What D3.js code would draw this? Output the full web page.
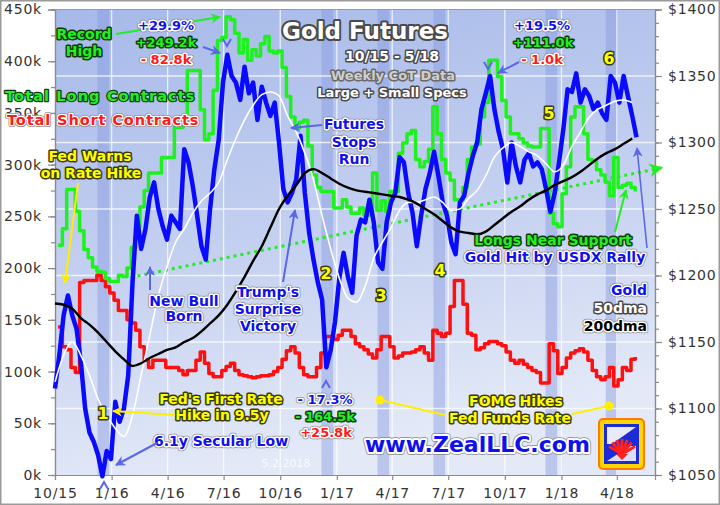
<!DOCTYPE html>
<html><head><meta charset="utf-8">
<script src="https://cdn.jsdelivr.net/npm/d3@7"></script>
<style>
html,body{margin:0;padding:0;background:#fff;}
svg{display:block;font-family:"DejaVu Sans",Verdana,sans-serif;}
</style></head><body>
<svg id="c" width="720" height="505"></svg>
<script>
// ---------------- DATA ----------------
const cotStart = "2015-10-06";   // weekly CoT report dates
const longK = [222,238,276,276,255,236,218,210,201,197,
196,190,187,187,193,192,200,220,240,259,
275,292,292,292,307,307,307,336,336,340,
391,391,391,353,324,330,372,420,423,443,
440,427,408,421,401,411,405,417,424,410,
408,410,394,366,346,335,341,343,318,290,
278,274,274,274,258,258,266,259,253,253,
258,251,251,292,256,265,255,274,274,311,
321,330,333,305,298,303,315,356,330,305,
292,285,266,266,278,305,317,320,346,360,
401,401,385,362,346,330,330,325,321,318,
317,317,335,335,253,243,240,272,298,346,
356,356,330,305,303,295,290,283,270,307,
278,280,282,278,274];
const shortK = [143,124,121,104,99,186,188,188,188,193,
188,182,176,169,159,159,150,147,140,124,
111,104,111,111,111,104,104,104,101,97,
101,101,111,119,108,98,95,95,101,105,
108,101,97,96,95,94,95,96,96,97,
100,104,112,120,124,118,104,97,95,95,
104,118,134,134,131,135,140,140,134,127,
124,121,117,113,121,134,134,124,113,115,
118,118,119,121,124,118,111,140,137,134,
137,163,188,188,165,137,135,121,123,127,
129,129,127,125,119,111,108,111,107,104,
101,99,89,89,127,120,98,104,113,118,
120,122,119,111,101,95,92,95,104,86,
92,104,101,112,114];
const goldStart = "2015-10-01";  // weekly gold closes
const gold = [1115,1140,1170,1185,1170,1160,1135,1100,1082,1075,
1065,1049,1068,1062,1105,1090,1100,1125,1195,1245,
1220,1235,1259,1270,1250,1237,1227,1245,1240,1235,
1295,1285,1267,1245,1222,1212,1250,1280,1302,1345,
1366,1350,1345,1332,1357,1337,1345,1317,1342,1330,
1320,1330,1300,1265,1255,1262,1272,1305,1262,1232,
1212,1195,1182,1131,1144,1165,1198,1217,1199,1187,
1230,1242,1240,1257,1240,1210,1205,1240,1255,1262,
1289,1285,1262,1247,1222,1245,1265,1277,1293,1275,
1255,1245,1225,1216,1255,1260,1277,1290,1300,1325,
1337,1350,1325,1308,1295,1270,1300,1282,1270,1287,
1292,1282,1285,1280,1265,1248,1262,1285,1310,1340,
1338,1352,1330,1340,1335,1325,1330,1322,1317,1350,
1345,1330,1350,1335,1320,1304];
const maStart = "2015-10-01";    // bi-weekly moving average readings
const ma50 = [1120,1140,1150,1140,1125,1107,1095,1085,1079,1095,
1125,1155,1185,1207,1225,1235,1247,1256,1262,1270,
1287,1303,1317,1328,1336,1338,1335,1320,1308,1292,
1272,1245,1220,1198,1183,1180,1192,1213,1225,1236,
1249,1255,1255,1257,1259,1255,1249,1250,1258,1264,
1275,1289,1296,1300,1297,1293,1290,1284,1278,1283,
1297,1308,1319,1325,1328,1331,1332,1330];
const ma200 = [1179,1178,1175,1168,1163,1157,1150,1143,1137,1132,
1134,1138,1141,1144,1146,1150,1153,1158,1164,1170,
1178,1188,1199,1211,1222,1236,1250,1260,1268,1277,
1280,1277,1273,1269,1266,1264,1263,1262,1261,1260,
1259,1257,1254,1250,1246,1241,1236,1233,1232,1231,
1233,1238,1243,1248,1252,1257,1261,1264,1268,1271,
1274,1278,1283,1288,1292,1295,1299,1303];
const fomcDates = ["2015-12-16","2016-12-14","2017-03-15","2017-06-14","2017-12-13","2018-03-21"];
const supportDates = ["2016-02-01","2018-06-13"];
const supportK = [191,297];
const xTickDates = ["2015-10-01","2016-01-01","2016-04-01","2016-07-01","2016-10-01","2017-01-01","2017-04-01","2017-07-01","2017-10-01","2018-01-01","2018-04-01"];
const xTickLabels = ["10/15","1/16","4/16","7/16","10/16","1/17","4/17","7/17","10/17","1/18","4/18"];
const leftTicks = [0,50,100,150,200,250,300,350,400,450];
const rightTicks = [1050,1100,1150,1200,1250,1300,1350,1400];

// ---------------- SETUP ----------------
const P = d3.timeParse("%Y-%m-%d");
const W = 720, H = 505;
const L = 55, R = 655, T = 9.5, B = 475;
const svg = d3.select("#c");
const x = d3.scaleTime().domain([P("2015-10-01"), P("2018-06-02")]).range([L, R]);
const yL = d3.scaleLinear().domain([0, 450]).range([B, T]);
const yR = d3.scaleLinear().domain([1050, 1400]).range([B, T]);

const seq = (start, step, arr) => arr.map((v, i) => ({d: d3.timeDay.offset(P(start), step * i), v}));
const longS = seq(cotStart, 7, longK), shortS = seq(cotStart, 7, shortK);
const goldS = seq(goldStart, 7, gold);
const ma50S = seq(maStart, 14, ma50), ma200S = seq(maStart, 14, ma200);

const defs = svg.append("defs");
const grad = defs.append("linearGradient").attr("id","bg").attr("x1",0).attr("y1",0).attr("x2",0.25).attr("y2",1);
grad.append("stop").attr("offset","0%").attr("stop-color","#a6b9e9");
grad.append("stop").attr("offset","55%").attr("stop-color","#c4d0f0");
grad.append("stop").attr("offset","100%").attr("stop-color","#e3e9f7");
function marker(id, color, size) {
  defs.append("marker").attr("id", id).attr("viewBox","0 0 10 10").attr("refX",9).attr("refY",5)
    .attr("markerWidth", size).attr("markerHeight", size).attr("orient","auto-start-reverse")
    .attr("markerUnits","userSpaceOnUse")
    .append("path").attr("d","M0,0 L10,5 L0,10 L3,5 Z").attr("fill", color);
}
marker("aG","#22ee22",10); marker("aB","#5a68e8",10); marker("aY","#ffee00",10); marker("aGs","#22ee22",14);

// frame
svg.append("rect").attr("x",0).attr("y",0).attr("width",W).attr("height",H).attr("fill","#fff");
svg.append("rect").attr("x",L).attr("y",T).attr("width",R-L).attr("height",B-T).attr("fill","url(#bg)");

// FOMC bands
svg.append("g").selectAll("rect").data(fomcDates).join("rect")
  .attr("x", d => x(d3.timeDay.offset(P(d), -7)))
  .attr("width", d => x(d3.timeDay.offset(P(d), 12)) - x(d3.timeDay.offset(P(d), -7)))
  .attr("y", T).attr("height", B - T).attr("fill","#8397e0").attr("opacity",0.42);

// grid
const grid = svg.append("g").attr("stroke","#ffffff").attr("stroke-width",1.3).attr("opacity",0.75);
grid.selectAll(".h").data(rightTicks.slice(1,-1)).join("line")
  .attr("x1",L).attr("x2",R).attr("y1",d=>yR(d)).attr("y2",d=>yR(d));
grid.selectAll(".v").data(xTickDates.slice(1)).join("line")
  .attr("y1",T).attr("y2",B).attr("x1",d=>x(P(d))).attr("x2",d=>x(P(d)));

// axes
function styleAxis(g){
  g.select(".domain").attr("stroke","#8a8a8a").attr("stroke-width",1.2);
  g.selectAll(".tick line").attr("stroke","#8a8a8a").attr("stroke-width",1.2);
  g.selectAll("text").attr("fill","#333").style("font-size","14px").style("letter-spacing","0.8px")
    .style("font-family","'DejaVu Sans',Verdana,sans-serif");
}
svg.append("g").attr("transform",`translate(${L},0)`)
  .call(d3.axisLeft(yL).tickValues(d3.range(0,451,25)).tickFormat("").tickSize(4)).call(styleAxis);
svg.append("g").attr("transform",`translate(${L},0)`)
  .call(d3.axisLeft(yL).tickValues(leftTicks).tickFormat(d=>d+"k").tickSize(7).tickPadding(6)).call(styleAxis);
svg.append("g").attr("transform",`translate(${R},0)`)
  .call(d3.axisRight(yR).tickValues(d3.range(1050,1401,10)).tickFormat("").tickSize(4)).call(styleAxis);
svg.append("g").attr("transform",`translate(${R},0)`)
  .call(d3.axisRight(yR).tickValues(rightTicks).tickFormat(d=>"$"+d).tickSize(7).tickPadding(6)).call(styleAxis);
svg.append("g").attr("transform",`translate(0,${B})`)
  .call(d3.axisBottom(x).tickValues(xTickDates.map(P)).tickFormat((d,i)=>xTickLabels[i]).tickSize(5).tickPadding(8)).call(styleAxis);
svg.append("line").attr("x1",L).attr("x2",R).attr("y1",T).attr("y2",T).attr("stroke","#9a9a9a");

// support line
svg.append("path").datum(supportDates.map((d,i)=>({d:P(d),v:supportK[i]})))
  .attr("d", d3.line().x(p=>x(p.d)).y(p=>yL(p.v)))
  .attr("stroke","#22ee22").attr("stroke-width",3).attr("stroke-dasharray","3,4").attr("fill","none")
  .attr("marker-end","url(#aGs)");

// series
const stepLine = d3.line().x(p=>x(p.d)).curve(d3.curveStepAfter);
svg.append("path").datum(shortS).attr("d", stepLine.y(p=>yL(p.v))).attr("fill","none")
  .attr("stroke","#ff1010").attr("stroke-width",3.5).attr("stroke-linejoin","round");
svg.append("path").datum(longS).attr("d", stepLine.y(p=>yL(p.v))).attr("fill","none")
  .attr("stroke","#1ff01f").attr("stroke-width",3.5).attr("stroke-linejoin","round");
svg.append("path").datum(goldS).attr("d", d3.line().x(p=>x(p.d)).y(p=>yR(p.v))).attr("fill","none")
  .attr("stroke","#0a0aff").attr("stroke-width",4.5).attr("stroke-linejoin","round");
svg.append("path").datum(ma50S).attr("d", d3.line().x(p=>x(p.d)).y(p=>yR(p.v)).curve(d3.curveMonotoneX)).attr("fill","none")
  .attr("stroke","#ffffff").attr("stroke-width",1.6);
svg.append("path").datum(ma200S).attr("d", d3.line().x(p=>x(p.d)).y(p=>yR(p.v)).curve(d3.curveMonotoneX)).attr("fill","none")
  .attr("stroke","#000000").attr("stroke-width",2.4);

// ---------------- ANNOTATIONS ----------------
const ann = svg.append("g").style("font-weight","bold");
const STY = {
  g: {fill:"#22f022", in:"#0d3a0d", out:null},
  y: {fill:"#ffff00", in:"#3a3a10", out:null},
  r: {fill:"#ff1a1a", in:"#ffffff", out:"#8a8a8a"},
  b: {fill:"#1010ee", in:"#ffffff", out:"#8a8a8a"},
  w: {fill:"#ffffff", in:"#4a4a4a", out:null},
  gr:{fill:"#cfcfcf", in:"#6a6a6a", out:null},
  k: {fill:"#000000", in:"#ffffff", out:"#8a8a8a"}
};
function txt(t, px, py, size, st, anchor="middle", sw=3, ls=0) {
  const s = STY[st];
  const grp = ann.append("g");
  const mk = () => grp.append("text").attr("x",px).attr("y",py).attr("text-anchor",anchor)
      .style("font-size",size+"px").style("letter-spacing",ls+"px").text(t);
  if (s.out) mk().attr("fill","none").attr("stroke",s.out).attr("stroke-width",sw+1.5).attr("stroke-linejoin","round");
  mk().attr("fill","none").attr("stroke",s.in).attr("stroke-width",sw).attr("stroke-linejoin","round");
  mk().attr("fill",s.fill);
}
function arrow(x1,y1,x2,y2,color,m,w=2){
  ann.append("line").attr("x1",x1).attr("y1",y1).attr("x2",x2).attr("y2",y2)
    .attr("stroke",color).attr("stroke-width",w).attr("marker-end",`url(#${m})`);
}
function chevron(cx,cy,dir,color){ // small arrow head
  const s = dir==="down" ? `M${cx-4},${cy-5} L${cx},${cy+2} L${cx+4},${cy-5}` : `M${cx-4},${cy+5} L${cx},${cy-2} L${cx+4},${cy+5}`;
  ann.append("path").attr("d",s).attr("fill","none").attr("stroke",color).attr("stroke-width",2);
}

// title block
txt("Gold Futures",365,39,23,"w","middle",4);
txt("10/15 - 5/18",392,61,14,"w");
txt("Weekly CoT Data",393,80,13,"gr");
txt("Large + Small Specs",392,97,13,"w");

// legends / labels
txt("Total Long Contracts",5,101,14.5,"g","start",2.5,1.1);
txt("Total Short Contracts",7,125,14.5,"r","start",2.5,0.9);
txt("Record",84,39,14,"g"); txt("High",84,56,14,"g");
arrow(116,34,220,17,"#22ee22","aG");
txt("+29.9%",166,30,13,"b"); txt("+249.2k",166,47,13,"g"); txt("- 82.8k",166,64,13,"r");
arrow(203,47,220,53,"#5a68e8","aB"); chevron(227,44,"down","#5a68e8");

txt("Fed Warns",90,161,14,"y"); txt("on Rate Hike",91,178,14,"y");
arrow(78,183,65,283,"#ffee00","aY");

txt("New Bull",184,306,14,"b"); txt("Born",184,321,14,"b");
arrow(150,290,150,267,"#5a68e8","aB");
txt("Trump's",268,297,14,"b"); txt("Surprise",268,314,14,"b"); txt("Victory",268,331,14,"b");
arrow(283,282,295,210,"#5a68e8","aB");
txt("Futures",354,129,14,"b"); txt("Stops",354,147,14,"b"); txt("Run",354,164,14,"b");
arrow(322,125,291,128,"#5a68e8","aB");

txt("+19.5%",542,30,13,"b"); txt("+111.0k",543,47,13,"g"); txt("- 1.0k",542,64,13,"r");
arrow(519,62,498,73,"#5a68e8","aB"); chevron(488,67,"down","#5a68e8");

txt("1",103,419,16,"y"); txt("2",326,279,16,"y"); txt("3",381,301,16,"y");
txt("4",440,276,16,"y"); txt("5",549,119,16,"y"); txt("6",609,64,16,"y");

txt("Fed's First Rate",221,404,14,"y"); txt("Hike in 9.5y",222,420,14,"y");
arrow(175,415,113,411,"#ffee00","aY");
txt("6.1y Secular Low",221,446,14,"b");
arrow(157,443,116,465,"#5a68e8","aB");
chevron(104,484,"up","#5a68e8");
txt("- 17.3%",325,404,13,"b"); txt("- 164.5k",325,421,13,"g"); txt("+25.8k",326,437,13,"r");
chevron(326,383,"up","#5a68e8");
ann.append("text").attr("x",286).attr("y",467).attr("text-anchor","middle").style("font-size","11px")
  .style("font-weight","normal").attr("fill","#ffffff").attr("opacity",0.85).text("5.2.2018");

txt("www.ZealLLC.com",365,452,22,"b","start",4);
txt("FOMC Hikes",516,406,14,"y"); txt("Fed Funds Rate",510,423,14,"y");
ann.append("line").attr("x1",380).attr("y1",400).attr("x2",445).attr("y2",415).attr("stroke","#ffee00").attr("stroke-width",2);
ann.append("line").attr("x1",572).attr("y1",414).attr("x2",609).attr("y2",406).attr("stroke","#ffee00").attr("stroke-width",2);
ann.append("circle").attr("cx",380).attr("cy",400).attr("r",4.5).attr("fill","#ffee00");
ann.append("circle").attr("cx",609).attr("cy",406).attr("r",4.5).attr("fill","#ffee00");

txt("Longs Near Support",553,245,14,"g"); txt("Gold Hit by USDX Rally",555,262,14,"b");
arrow(615,232,626,190,"#22ee22","aG");
arrow(647,248,637,148,"#5a68e8","aB",1.6);
txt("Gold",647,295,14,"b","end"); txt("50dma",647,313,14,"w","end"); txt("200dma",647,331,14,"k","end");

// logo
const lg = svg.append("g");
lg.append("rect").attr("x",599).attr("y",419).attr("width",45).attr("height",50).attr("rx",4)
  .attr("fill","#ffd400").attr("stroke","#ff7a00").attr("stroke-width",2);
lg.append("rect").attr("x",604).attr("y",424).attr("width",35).attr("height",40).attr("fill","#1c2bd8");
lg.append("path").attr("d","M607,427 L636,427 L612,444 L607,444 Z").attr("fill","#ffffff").attr("opacity",0.9);
lg.append("path").attr("d","M607,461 L636,461 L636,446 L630,446 Z").attr("fill","#ffffff").attr("opacity",0.85);
d3.range(-60,61,20).forEach(a=>{
  const r=a*Math.PI/180;
  lg.append("line").attr("x1",622).attr("y1",454).attr("x2",622+15*Math.sin(r)).attr("y2",454-15*Math.cos(r))
    .attr("stroke","#ff2020").attr("stroke-width",3);
});
lg.append("path").attr("d","M616,454 L628,454 L622,460 Z").attr("fill","#ff2020");

// outer border
svg.append("rect").attr("x",0.75).attr("y",0.75).attr("width",W-1.5).attr("height",H-1.5)
  .attr("fill","none").attr("stroke","#9a9a9a").attr("stroke-width",1.5);
</script></body></html>
